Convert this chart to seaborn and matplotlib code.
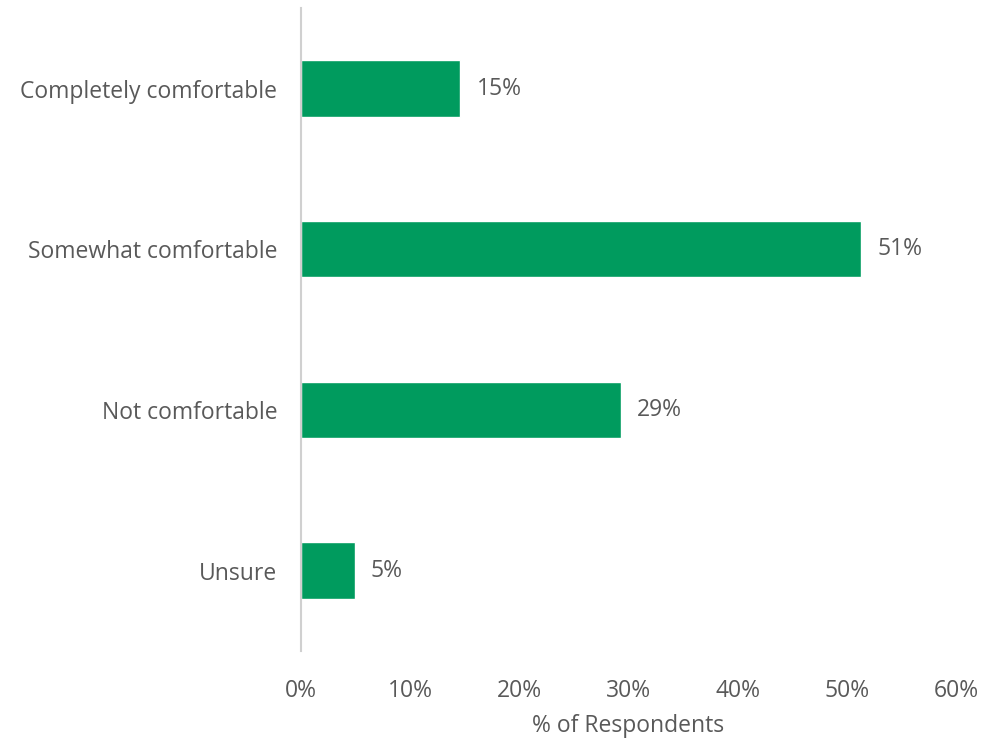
import matplotlib
matplotlib.use("Agg")
import matplotlib.pyplot as plt
import seaborn as sns
import pandas as pd

categories = ["Completely comfortable", "Somewhat comfortable", "Not comfortable", "Unsure"]
values = [14.6, 51.3, 29.3, 4.9]
value_labels = ["15%", "51%", "29%", "5%"]
xticks = [0, 10, 20, 30, 40, 50, 60]
xtick_labels = ["0%", "10%", "20%", "30%", "40%", "50%", "60%"]

sns.set_theme(style="white")
plt.rcParams["font.family"] = ["Open Sans", "DejaVu Sans"]

df = pd.DataFrame({"cat": categories, "val": values})

fig = plt.figure(figsize=(9.84, 7.41), dpi=100)
ax = fig.add_axes([0.306, 0.1215, 0.6655, 0.8675])
sns.barplot(data=df, y="cat", x="val", orient="h", color="#009B5E",
            width=0.35, ax=ax, saturation=1)

grey = "#595959"
fs = 16.5
for i, (v, lab) in enumerate(zip(values, value_labels)):
    ax.text(v + 1.5, i, lab, va="center", ha="left", fontsize=fs, color=grey)

ax.set_xlim(0, 60)
ax.set_ylim(3.5, -0.5)
ax.set_xticks(xticks)
ax.set_xticklabels(xtick_labels, fontsize=fs, color=grey)
ax.tick_params(axis="y", labelsize=fs, labelcolor=grey, length=0, pad=17)
ax.tick_params(axis="x", length=0, pad=20)
ax.set_ylabel("")
ax.set_xlabel("% of Respondents", fontsize=fs, color=grey, labelpad=8)
for s in ["top", "right", "bottom"]:
    ax.spines[s].set_visible(False)
ax.spines["left"].set_color("#D0D0D0")
ax.spines["left"].set_linewidth(1.5)

fig.savefig("out.png", dpi=100)
